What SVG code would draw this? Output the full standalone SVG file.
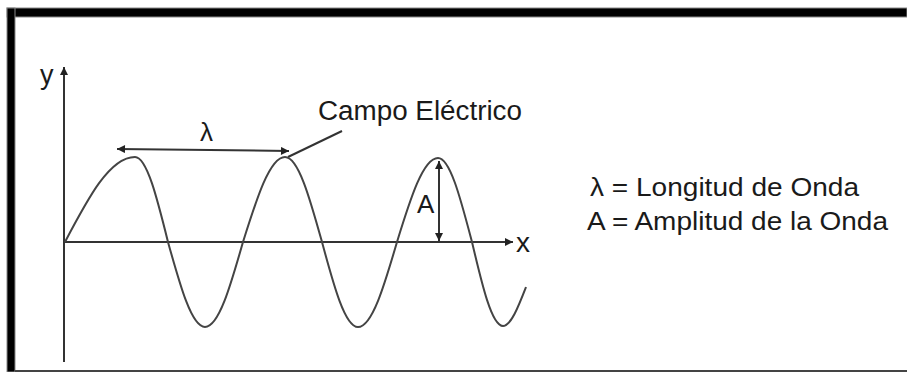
<svg xmlns="http://www.w3.org/2000/svg" width="907" height="372" viewBox="0 0 907 372">
<defs>
<marker id="ah" viewBox="0 0 10 10" refX="10" refY="5" markerWidth="9" markerHeight="8" markerUnits="userSpaceOnUse" orient="auto-start-reverse">
<path d="M0,0 L10,5 L0,10 Z" fill="#222"/>
</marker>
<style>
.ln{stroke:#333;stroke-width:2;fill:none}
.wave{stroke:#444;stroke-width:2;fill:none}
.t{font-family:"Liberation Sans",Arial,sans-serif;fill:#1a1a1a}
</style>
</defs>
<rect x="0" y="0" width="907" height="372" fill="#fff"/>
<g id="frame">
<rect x="7" y="8" width="900" height="9" fill="#000" stroke="#888" stroke-width="1"/>
<rect x="7" y="8" width="8" height="364" fill="#000" stroke="#888" stroke-width="1"/>
<rect x="15" y="370" width="892" height="2" fill="#444"/>
</g>
<g id="connectors">
<line class="ln" x1="64" y1="362" x2="64" y2="67" marker-end="url(#ah)"/>
<line class="ln" x1="64" y1="242" x2="513" y2="242" marker-end="url(#ah)"/>
<line class="ln" x1="117" y1="149" x2="289" y2="151" marker-start="url(#ah)" marker-end="url(#ah)"/>
<line class="ln" x1="288" y1="157" x2="342" y2="131"/>
<line class="ln" x1="439" y1="161" x2="439" y2="241" marker-start="url(#ah)" marker-end="url(#ah)"/>
</g>
<g id="wave">
<path class="wave" d="M65,242 C87.8,198.5 109.7,157 135,157 C146.9,157 157.2,198.5 168,242 C180.1,285.5 191.6,327 205,327 C218.8,327 230.6,285.5 243,242 C256.7,198.5 269.8,157 285,157 C298.4,157 309.9,198.5 322,242 C333.7,285.5 345,327 358,327 C372.1,327 384.3,285.5 397,242 C410.4,198.5 423.2,158 438,158 C450.3,158 460.9,200 472,242 C482.1,285 491.8,326 503,326 C511,326 519,305 526,287"/>
</g>
<g id="labels">
<text class="t" x="40" y="84" font-size="27">y</text>
<text class="t" x="516" y="252" font-size="28">x</text>
<text class="t" x="200" y="141" font-size="26">λ</text>
<text class="t" x="417" y="213" font-size="26">A</text>
<text class="t" x="318" y="120" font-size="27" textLength="204" lengthAdjust="spacingAndGlyphs">Campo Eléctrico</text>
<text class="t" x="590" y="196" font-size="26" textLength="269" lengthAdjust="spacingAndGlyphs">λ = Longitud de Onda</text>
<text class="t" x="587" y="230" font-size="26" textLength="301" lengthAdjust="spacingAndGlyphs">A = Amplitud de la Onda</text>
</g>
</svg>
